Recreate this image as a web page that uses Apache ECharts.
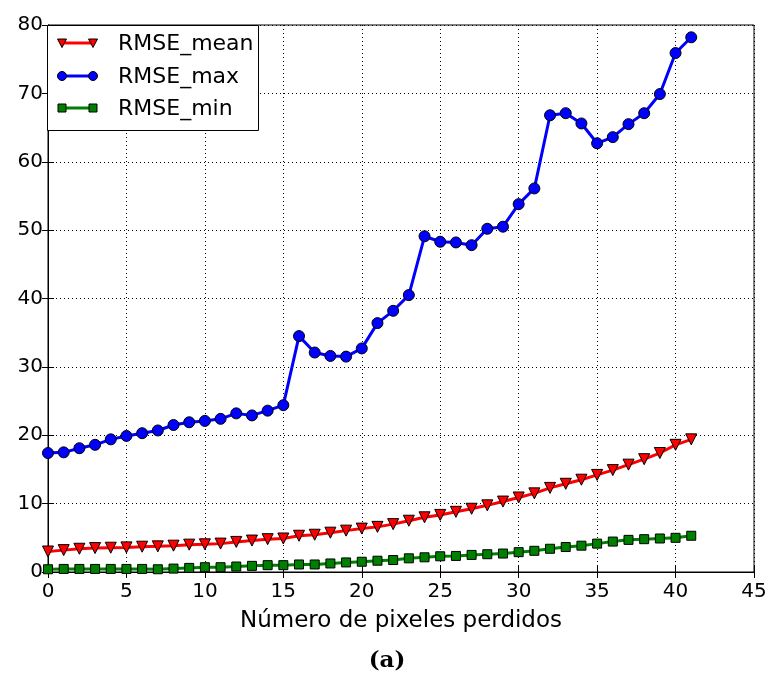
<!DOCTYPE html>
<html><head><meta charset="utf-8">
<script src="https://cdn.jsdelivr.net/npm/echarts@6/dist/echarts.min.js"></script>
<style>html,body{margin:0;padding:0;background:#fff}#c{width:774px;height:683px}</style>
</head><body><div id="c"></div>
<script>
const xValues = [0,1,2,3,4,5,6,7,8,9,10,11,12,13,14,15,16,17,18,19,20,21,22,23,24,25,26,27,28,29,30,31,32,33,34,35,36,37,38,39,40,41];
const rmseMean = [3.0,3.2,3.4,3.5,3.55,3.6,3.7,3.75,3.85,4.0,4.05,4.15,4.4,4.6,4.8,4.9,5.3,5.45,5.75,6.05,6.35,6.6,7.0,7.5,8.0,8.35,8.8,9.25,9.75,10.3,10.9,11.5,12.3,12.9,13.5,14.2,14.9,15.7,16.5,17.4,18.6,19.4];
const rmseMax = [17.4,17.5,18.1,18.6,19.4,19.9,20.3,20.7,21.5,21.9,22.1,22.4,23.2,22.9,23.6,24.4,34.5,32.1,31.6,31.5,32.7,36.4,38.2,40.5,49.1,48.3,48.2,47.8,50.2,50.5,53.8,56.1,66.8,67.1,65.6,62.7,63.6,65.5,67.1,69.9,75.9,78.2];
const rmseMin = [0.4,0.45,0.45,0.45,0.45,0.45,0.45,0.4,0.5,0.6,0.7,0.7,0.8,0.9,1.0,1.0,1.1,1.1,1.25,1.4,1.5,1.65,1.75,2.0,2.15,2.3,2.35,2.5,2.6,2.7,2.9,3.1,3.4,3.65,3.85,4.15,4.45,4.7,4.8,4.9,5.0,5.3];
const seriesNames = ['RMSE_mean','RMSE_max','RMSE_min'];
const xLabel = 'Número de pixeles perdidos';
const caption = '(a)';

const FONT = 'DejaVu Sans';
const chart = echarts.init(document.getElementById('c'), null, {renderer:'canvas'});
const pair = arr => arr.map((v,i)=>[xValues[i], v]);
const gridLine = {show:true, lineStyle:{color:'#000', width:1, type:[1,3]}};
const tickIn = {show:true, inside:true, length:6, lineStyle:{color:'#000', width:1}};
const lbl = {color:'#000', fontFamily:FONT, fontSize:20};

const legendRows = [
  {name:seriesNames[0], color:'#ff0000', symbol:'triangle', y:43},
  {name:seriesNames[1], color:'#0000ff', symbol:'circle', y:76},
  {name:seriesNames[2], color:'#008000', symbol:'rect', y:108}
];
const legendGraphics = [{type:'rect', shape:{x:47.5, y:25.5, width:211, height:105}, style:{fill:'#fff', stroke:'#000', lineWidth:1}, z:100}];
legendRows.forEach(r=>{
  legendGraphics.push({type:'line', shape:{x1:62, y1:r.y, x2:93, y2:r.y}, style:{stroke:r.color, lineWidth:3}, z:101});
  [62,93].forEach(cx=>{
    if (r.symbol==='circle') legendGraphics.push({type:'circle', shape:{cx:cx, cy:r.y, r:4.5}, style:{fill:r.color, stroke:'#000', lineWidth:1}, z:102});
    else if (r.symbol==='rect') legendGraphics.push({type:'rect', shape:{x:cx-4, y:r.y-4, width:8, height:8}, style:{fill:r.color, stroke:'#000', lineWidth:1}, z:102});
    else legendGraphics.push({type:'polygon', shape:{points:[[cx-4.5,r.y-4],[cx+4.5,r.y-4],[cx,r.y+4.5]]}, style:{fill:r.color, stroke:'#000', lineWidth:1}, z:102});
  });
  legendGraphics.push({type:'text', x:118, y:r.y+1, style:{text:r.name, fill:'#000', font:'22px "DejaVu Sans"', textVerticalAlign:'middle'}, z:102});
});
legendGraphics.push({type:'text', left:'center', top:650, style:{text:caption, fill:'#000', font:'bold 23px "DejaVu Serif"'}});

const mk = (name, data, color, symbol, size, rot) => ({
  name, type:'line', data:pair(data), symbol, symbolSize:size, symbolRotate:rot,
  lineStyle:{color, width:3}, itemStyle:{color, borderColor:'#000', borderWidth:1},
  showSymbol:true, animation:false, z:3
});

chart.setOption({
  animation:false,
  backgroundColor:'#fff',
  grid:{left:48, right:20, top:25, bottom:111, show:true, borderColor:'#000', borderWidth:1},
  xAxis:[
    {type:'value', min:0, max:45, interval:5, position:'bottom',
     axisLine:{show:true, lineStyle:{color:'#000'}}, axisTick:tickIn, splitLine:gridLine,
     axisLabel:Object.assign({margin:10}, lbl),
     name:xLabel, nameLocation:'middle', nameGap:38, nameTextStyle:{color:'#000', fontFamily:FONT, fontSize:23}},
    {type:'value', min:0, max:45, interval:5, position:'top',
     axisLine:{show:true, lineStyle:{color:'#000'}}, axisTick:tickIn, splitLine:{show:false}, axisLabel:{show:false}}
  ],
  yAxis:[
    {type:'value', min:0, max:80, interval:10, position:'left',
     axisLine:{show:true, lineStyle:{color:'#000'}}, axisTick:tickIn, splitLine:gridLine,
     axisLabel:Object.assign({margin:5}, lbl)},
    {type:'value', min:0, max:80, interval:10, position:'right',
     axisLine:{show:true, lineStyle:{color:'#000'}}, axisTick:tickIn, splitLine:{show:false}, axisLabel:{show:false}}
  ],
  series:[
    mk(seriesNames[0], rmseMean, '#ff0000', 'triangle', 11, 180),
    mk(seriesNames[1], rmseMax, '#0000ff', 'circle', 11, 0),
    mk(seriesNames[2], rmseMin, '#008000', 'rect', 9, 0)
  ],
  graphic:legendGraphics
});
</script></body></html>
